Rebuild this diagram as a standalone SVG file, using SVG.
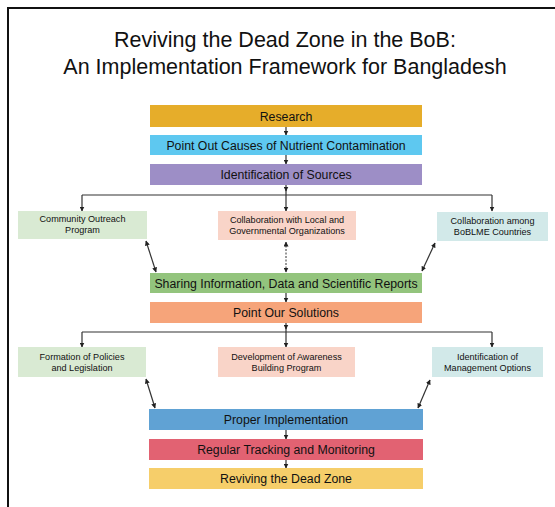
<svg xmlns="http://www.w3.org/2000/svg" width="555" height="507" viewBox="0 0 555 507">
<style>
.t{font-family:"Liberation Sans",Arial,sans-serif;fill:#111;text-anchor:middle}
.title{font-size:21.5px}
.m{font-size:12.3px}
.s{font-size:9.1px}
.c{stroke:#333;stroke-width:1.2;fill:none}
.d{stroke:#333;stroke-width:1;fill:none;stroke-dasharray:2 1.5}
</style>
<defs>
<marker id="ah" viewBox="0 0 10 10" refX="9" refY="5" markerWidth="5" markerHeight="5" orient="auto-start-reverse" markerUnits="userSpaceOnUse">
<path d="M0,0 L10,5 L0,10 z" fill="#222"/>
</marker>
</defs>
<rect width="555" height="507" fill="#fff"/>
<path d="M8,507 V8 H555" stroke="#111" stroke-width="2" fill="none"/>
<g id="title">
<text class="t title" x="285" y="47">Reviving the Dead Zone in the BoB:</text>
<text class="t title" x="285" y="74">An Implementation Framework for Bangladesh</text>
</g>
<g id="connectors">
<line class="c" x1="286" y1="127" x2="286" y2="135" marker-end="url(#ah)"/>
<line class="c" x1="286" y1="155" x2="286" y2="164" marker-end="url(#ah)"/>
<line class="c" x1="286" y1="185" x2="286" y2="191" marker-end="url(#ah)"/>
<line class="c" x1="286" y1="190" x2="286" y2="195"/>
<line class="c" x1="82" y1="195" x2="492" y2="195"/>
<line class="c" x1="82" y1="195" x2="82" y2="211" marker-end="url(#ah)"/>
<line class="c" x1="286" y1="195" x2="286" y2="211" marker-end="url(#ah)"/>
<line class="c" x1="492" y1="195" x2="492" y2="211" marker-end="url(#ah)"/>
<line class="c" x1="146" y1="241" x2="156" y2="272" marker-start="url(#ah)" marker-end="url(#ah)"/>
<line class="d" x1="286" y1="242" x2="286" y2="272" marker-start="url(#ah)" marker-end="url(#ah)"/>
<line class="c" x1="435" y1="243" x2="422" y2="271" marker-start="url(#ah)" marker-end="url(#ah)"/>
<line class="c" x1="286" y1="293" x2="286" y2="302" marker-end="url(#ah)"/>
<line class="c" x1="286" y1="323" x2="286" y2="329" marker-end="url(#ah)"/>
<line class="c" x1="286" y1="328" x2="286" y2="332"/>
<line class="c" x1="82" y1="332" x2="492" y2="332"/>
<line class="c" x1="82" y1="332" x2="82" y2="347" marker-end="url(#ah)"/>
<line class="c" x1="286" y1="332" x2="286" y2="347" marker-end="url(#ah)"/>
<line class="c" x1="492" y1="332" x2="492" y2="347" marker-end="url(#ah)"/>
<line class="c" x1="146" y1="379" x2="155" y2="408" marker-start="url(#ah)" marker-end="url(#ah)"/>
<line class="c" x1="430" y1="380" x2="418" y2="408" marker-start="url(#ah)" marker-end="url(#ah)"/>
<line class="c" x1="286" y1="430" x2="286" y2="439" marker-end="url(#ah)"/>
<line class="c" x1="286" y1="460" x2="286" y2="468" marker-end="url(#ah)"/>
</g>
<g id="research"><rect x="150" y="105" width="272" height="22" fill="#e6ad2a"/><text class="t m" x="286" y="120.5">Research</text></g>
<g id="causes"><rect x="150" y="135" width="272" height="20" fill="#5ec8f0"/><text class="t m" x="286" y="149.5">Point Out Causes of Nutrient Contamination</text></g>
<g id="sources"><rect x="150" y="164" width="272" height="21" fill="#9d8ec6"/><text class="t m" x="286" y="178.5">Identification of Sources</text></g>
<g id="community"><rect x="18" y="211" width="129" height="28" fill="#d9ead3"/><text class="t s" x="82.5" y="222">Community Outreach</text><text class="t s" x="82.5" y="233">Program</text></g>
<g id="collab-local"><rect x="218" y="211" width="138" height="29" fill="#f9d4c8"/><text class="t s" x="287" y="222.5">Collaboration with Local and</text><text class="t s" x="287" y="233.5">Governmental Organizations</text></g>
<g id="boblme"><rect x="437" y="212" width="111" height="29" fill="#d2e9e9"/><text class="t s" x="492.5" y="224">Collaboration among</text><text class="t s" x="492.5" y="235">BoBLME Countries</text></g>
<g id="sharing"><rect x="150" y="273" width="272" height="20" fill="#93c47d"/><text class="t m" x="286" y="287.5">Sharing Information, Data and Scientific Reports</text></g>
<g id="solutions"><rect x="150" y="302" width="272" height="21" fill="#f6a47a"/><text class="t m" x="286" y="316.5">Point Our Solutions</text></g>
<g id="policies"><rect x="18" y="347" width="128" height="30" fill="#d9ead3"/><text class="t s" x="82" y="359.5">Formation of Policies</text><text class="t s" x="82" y="370.5">and Legislation</text></g>
<g id="awareness"><rect x="218" y="347" width="137" height="30" fill="#f9d4c8"/><text class="t s" x="286.5" y="359.5">Development of Awareness</text><text class="t s" x="286.5" y="370.5">Building Program</text></g>
<g id="management"><rect x="432" y="347" width="111" height="30" fill="#d2e9e9"/><text class="t s" x="487.5" y="359.5">Identification of</text><text class="t s" x="487.5" y="370.5">Management Options</text></g>
<g id="implementation"><rect x="149" y="409" width="274" height="21" fill="#60a2d4"/><text class="t m" x="286" y="423.5">Proper Implementation</text></g>
<g id="tracking"><rect x="149" y="439" width="274" height="21" fill="#e26272"/><text class="t m" x="286" y="453.5">Regular Tracking and Monitoring</text></g>
<g id="reviving"><rect x="149" y="468" width="274" height="21" fill="#f6ce6a"/><text class="t m" x="286" y="482.5">Reviving the Dead Zone</text></g>
</svg>
